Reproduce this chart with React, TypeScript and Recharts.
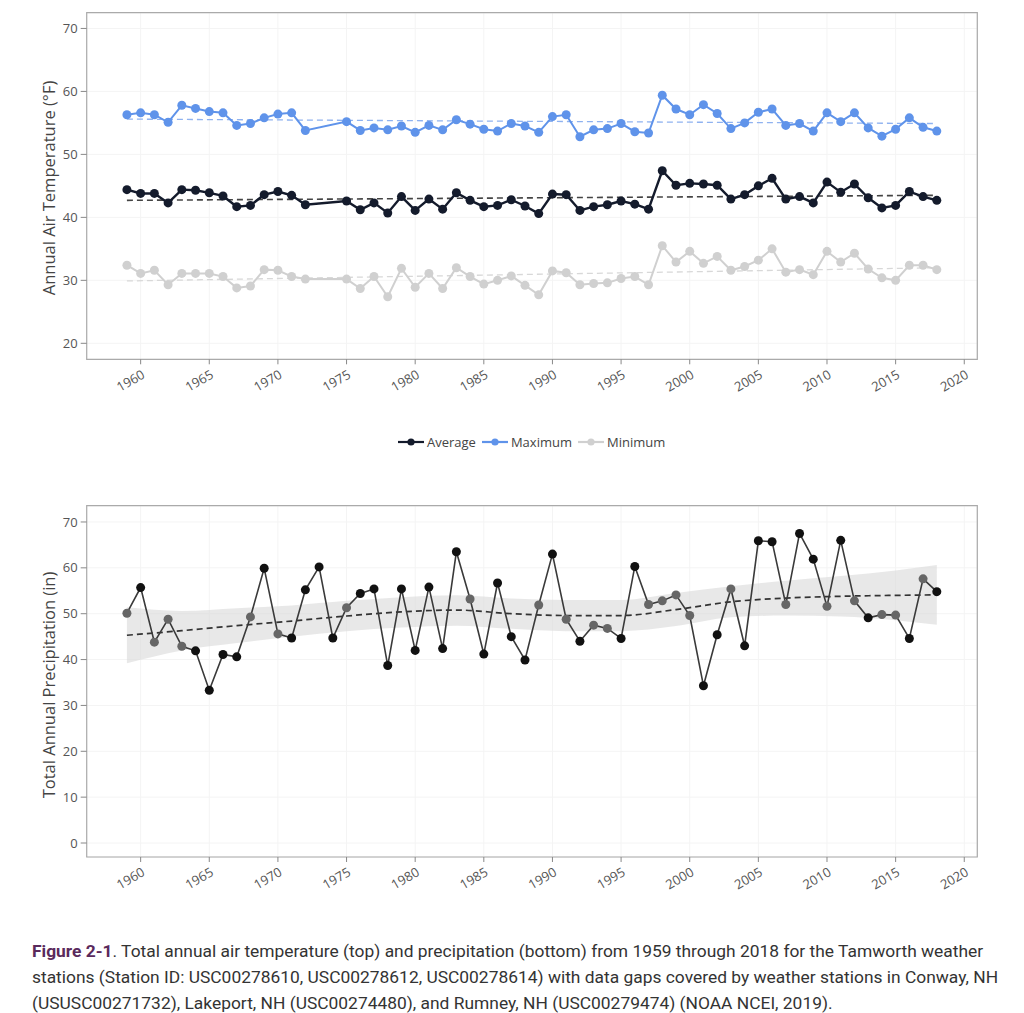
import React from 'react'
import { Area, CartesianGrid, ComposedChart, Line, LineChart, ReferenceArea, XAxis, YAxis } from 'recharts'

// top panel: annual air temperature (°F); 1973-1974 missing
const tempYears = [
  1959, 1960, 1961, 1962, 1963, 1964, 1965, 1966, 1967, 1968, 1969, 1970, 1971, 1972,
  1975, 1976, 1977, 1978, 1979, 1980, 1981, 1982, 1983, 1984,
  1985, 1986, 1987, 1988, 1989, 1990, 1991, 1992, 1993, 1994,
  1995, 1996, 1997, 1998, 1999, 2000, 2001, 2002, 2003, 2004,
  2005, 2006, 2007, 2008, 2009, 2010, 2011, 2012, 2013, 2014,
  2015, 2016, 2017, 2018,
]
const avgTemp = [
  44.4, 43.8, 43.8, 42.3, 44.4, 44.3, 43.9, 43.4, 41.7, 41.9, 43.6, 44.1, 43.5, 42.0,
  42.6, 41.2, 42.3, 40.7, 43.3, 41.1, 42.9, 41.3, 43.9, 42.7,
  41.7, 41.9, 42.8, 41.8, 40.6, 43.7, 43.6, 41.1, 41.7, 42.0,
  42.6, 42.1, 41.3, 47.4, 45.1, 45.4, 45.3, 45.1, 42.9, 43.6,
  45.0, 46.2, 42.9, 43.3, 42.3, 45.6, 44.0, 45.3, 43.1, 41.5,
  41.9, 44.1, 43.3, 42.7,
]
const maxTemp = [
  56.3, 56.6, 56.3, 55.1, 57.8, 57.3, 56.8, 56.6, 54.6, 54.9, 55.8, 56.4, 56.6, 53.8,
  55.2, 53.8, 54.2, 53.9, 54.5, 53.5, 54.6, 53.9, 55.5, 54.8,
  54.0, 53.7, 54.9, 54.5, 53.5, 56.0, 56.3, 52.8, 53.9, 54.1,
  54.9, 53.6, 53.4, 59.4, 57.2, 56.3, 57.9, 56.5, 54.1, 55.0,
  56.7, 57.2, 54.6, 54.9, 53.7, 56.6, 55.2, 56.6, 54.2, 52.9,
  54.0, 55.8, 54.3, 53.7,
]
const minTemp = [
  32.4, 31.1, 31.6, 29.3, 31.1, 31.1, 31.1, 30.6, 28.8, 29.1, 31.7, 31.6, 30.6, 30.2,
  30.2, 28.7, 30.6, 27.4, 31.9, 28.9, 31.1, 28.7, 32.0, 30.6,
  29.4, 30.0, 30.7, 29.2, 27.7, 31.5, 31.2, 29.3, 29.5, 29.6,
  30.3, 30.6, 29.3, 35.5, 32.9, 34.6, 32.7, 33.8, 31.6, 32.2,
  33.2, 35.0, 31.3, 31.7, 30.9, 34.6, 32.9, 34.3, 31.8, 30.4,
  30.0, 32.4, 32.4, 31.7,
]

// linear trend end points
const trendYears = [1959, 2018]
const avgTrend = [42.7, 43.5]
const maxTrend = [55.6, 54.9]
const minTrend = [29.9, 32.0]

// bottom panel: total annual precipitation (in)
const precipYears = [
  1959, 1960, 1961, 1962, 1963, 1964, 1965, 1966, 1967, 1968,
  1969, 1970, 1971, 1972, 1973, 1974, 1975, 1976, 1977, 1978,
  1979, 1980, 1981, 1982, 1983, 1984, 1985, 1986, 1987, 1988,
  1989, 1990, 1991, 1992, 1993, 1994, 1995, 1996, 1997, 1998,
  1999, 2000, 2001, 2002, 2003, 2004, 2005, 2006, 2007, 2008,
  2009, 2010, 2011, 2012, 2013, 2014, 2015, 2016, 2017, 2018,
]
const precip = [
  50.1, 55.7, 43.8, 48.8, 42.9, 41.9, 33.3, 41.1, 40.6, 49.3,
  59.9, 45.6, 44.7, 55.2, 60.2, 44.7, 51.3, 54.4, 55.4, 38.7,
  55.4, 42.0, 55.8, 42.4, 63.5, 53.2, 41.2, 56.7, 45.0, 39.9,
  51.9, 63.0, 48.8, 44.0, 47.5, 46.8, 44.6, 60.3, 52.0, 52.8,
  54.1, 49.6, 34.3, 45.4, 55.4, 43.0, 65.9, 65.7, 52.0, 67.5,
  61.9, 51.6, 66.0, 52.8, 49.1, 49.8, 49.7, 44.6, 57.6, 54.8,
]
// years filled from nearby stations (grey points)
const gapYears = [
  1959, 1961, 1962, 1963, 1968, 1970, 1975, 1984, 1989, 1991, 1993, 1994,
  1997, 1998, 1999, 2000, 2003, 2007, 2010, 2012, 2014, 2015, 2017,
]

// smoothed trend with confidence band
const smoothYears = [1959, 1963, 1967, 1971, 1975, 1979, 1983, 1987, 1991, 1995, 1999, 2003, 2007, 2011, 2015, 2018]
const smoothMid = [45.3, 46.3, 47.4, 48.4, 49.5, 50.4, 50.8, 50.0, 49.6, 49.6, 50.9, 52.6, 53.4, 53.8, 54.0, 54.1]
const smoothLow = [39.2, 42.0, 43.6, 45.0, 46.2, 47.0, 47.4, 46.7, 46.2, 46.2, 47.3, 49.2, 49.6, 49.4, 48.6, 47.6]
const smoothHigh = [51.4, 50.6, 51.2, 51.8, 52.8, 53.6, 54.0, 53.3, 53.0, 53.0, 54.5, 56.0, 57.2, 58.2, 59.4, 60.6]

const yearTicks = [1960, 1965, 1970, 1975, 1980, 1985, 1990, 1995, 2000, 2005, 2010, 2015, 2020]
const tempTicks = [20, 30, 40, 50, 60, 70]
const precipTicks = [0, 10, 20, 30, 40, 50, 60, 70]

const captionLines = [
  '. Total annual air temperature (top) and precipitation (bottom) from 1959 through 2018 for the Tamworth weather',
  'stations (Station ID: USC00278610, USC00278612, USC00278614) with data gaps covered by weather stations in Conway, NH',
  '(USUSC00271732), Lakeport, NH (USC00274480), and Rumney, NH (USC00279474) (NOAA NCEI, 2019).',
]

const X_DOMAIN: [number, number] = [1956.07, 2020.95]
const TEMP_DOMAIN: [number, number] = [17.46, 72.5]
const PRECIP_DOMAIN: [number, number] = [-3.05, 73.55]

const FONT = '"Open Sans", "Noto Sans", sans-serif'
const AVG = '#141b2c'
const MAX = '#5f93ea'
const MIN = '#d0d0d0'

const tempRows = tempYears.map((year, i) => ({ year, avg: avgTemp[i], max: maxTemp[i], min: minTemp[i] }))
const avgTrendRows = trendYears.map((year, i) => ({ year, v: avgTrend[i] }))
const maxTrendRows = trendYears.map((year, i) => ({ year, v: maxTrend[i] }))
const minTrendRows = trendYears.map((year, i) => ({ year, v: minTrend[i] }))
const precipRows = precipYears.map((year, i) => ({ year, p: precip[i], gap: gapYears.includes(year) }))
const smoothRows = smoothYears.map((year, i) => ({ year, mid: smoothMid[i], band: [smoothLow[i], smoothHigh[i]] }))

function YearTick({ x, y, payload }: any) {
  return (
    <g transform={`translate(${x},${y})`}>
      <text x={-1} y={12} transform="rotate(-30)" textAnchor="end" fill="#555" fontSize={13} fontFamily={FONT}>
        {payload.value}
      </text>
    </g>
  )
}

function PrecipDot(props: any) {
  const { cx, cy, payload, index } = props
  if (cx == null || cy == null) return <g key={`pd-${index}`} />
  return <circle key={`pd-${index}`} cx={cx} cy={cy} r={4.5} fill={payload.gap ? '#666666' : '#111111'} stroke="none" />
}

const yTick = { fill: '#555', fontSize: 13, fontFamily: FONT }

function LegendItem({ color, label }: { color: string; label: string }) {
  return (
    <span style={{ display: 'inline-flex', alignItems: 'center', marginRight: 6 }}>
      <svg width={26} height={10}>
        <line x1={0} y1={5} x2={26} y2={5} stroke={color} strokeWidth={2.2} />
        <circle cx={13} cy={5} r={3.6} fill={color} />
      </svg>
      <span style={{ marginLeft: 3 }}>{label}</span>
    </span>
  )
}

export default function App() {
  return (
    <div style={{ position: 'absolute', left: 0, top: 0, width: 1024, height: 1013, background: '#fff', fontFamily: FONT }}>
      {/* top chart */}
      <div style={{ position: 'absolute', left: 0, top: 0 }}>
        <LineChart width={1024} height={420} data={tempRows} margin={{ top: 12.7, right: 46.7, bottom: 0.7, left: 36.7 }}>
          <CartesianGrid stroke="#f4f4f4" />
          <XAxis
            dataKey="year"
            type="number"
            domain={X_DOMAIN}
            allowDataOverflow
            ticks={yearTicks}
            height={60}
            axisLine={false}
            tickLine={{ stroke: '#888' }}
            tickSize={5}
            tick={<YearTick />}
          />
          <YAxis
            type="number"
            domain={TEMP_DOMAIN}
            allowDataOverflow
            ticks={tempTicks}
            width={50}
            axisLine={false}
            tickLine={{ stroke: '#888' }}
            tickSize={6}
            tickMargin={3}
            tick={yTick}
          />
          <ReferenceArea x1={X_DOMAIN[0]} x2={X_DOMAIN[1]} y1={TEMP_DOMAIN[0]} y2={TEMP_DOMAIN[1]} fill="none" stroke="#aaa" strokeWidth={1.2} />
          <Line data={maxTrendRows} dataKey="v" stroke="#8fb2f0" strokeWidth={1.3} strokeDasharray="6 4" dot={false} activeDot={false} isAnimationActive={false} />
          <Line data={avgTrendRows} dataKey="v" stroke="#444" strokeWidth={1.6} strokeDasharray="6 4" dot={false} activeDot={false} isAnimationActive={false} />
          <Line data={minTrendRows} dataKey="v" stroke="#d8d8d8" strokeWidth={1.3} strokeDasharray="6 4" dot={false} activeDot={false} isAnimationActive={false} />
          <Line dataKey="min" stroke={MIN} strokeWidth={2} dot={{ r: 4.5, fill: MIN, stroke: 'none' }} activeDot={false} isAnimationActive={false} />
          <Line dataKey="max" stroke={MAX} strokeWidth={2} dot={{ r: 4.5, fill: MAX, stroke: 'none' }} activeDot={false} isAnimationActive={false} />
          <Line dataKey="avg" stroke={AVG} strokeWidth={2.4} dot={{ r: 4.5, fill: AVG, stroke: 'none' }} activeDot={false} isAnimationActive={false} />
        </LineChart>
      </div>
      <div
        style={{
          position: 'absolute', left: 48, top: 188, transform: 'translate(-50%, -50%) rotate(-90deg)',
          whiteSpace: 'nowrap', fontSize: 16.5, color: '#444',
        }}
      >
        Annual Air Temperature (°F)
      </div>

      {/* legend */}
      <div style={{ position: 'absolute', left: 398, top: 433, fontSize: 13, color: '#444', display: 'flex', alignItems: 'center', whiteSpace: 'nowrap' }}>
        <LegendItem color={AVG} label="Average" />
        <LegendItem color={MAX} label="Maximum" />
        <LegendItem color={MIN} label="Minimum" />
      </div>

      {/* bottom chart */}
      <div style={{ position: 'absolute', left: 0, top: 480 }}>
        <ComposedChart width={1024} height={440} data={precipRows} margin={{ top: 25.7, right: 46.7, bottom: 3, left: 36.7 }}>
          <CartesianGrid stroke="#f4f4f4" />
          <XAxis
            dataKey="year"
            type="number"
            domain={X_DOMAIN}
            allowDataOverflow
            ticks={yearTicks}
            height={60}
            axisLine={false}
            tickLine={{ stroke: '#888' }}
            tickSize={5}
            tick={<YearTick />}
          />
          <YAxis
            type="number"
            domain={PRECIP_DOMAIN}
            allowDataOverflow
            ticks={precipTicks}
            width={50}
            axisLine={false}
            tickLine={{ stroke: '#888' }}
            tickSize={6}
            tickMargin={3}
            tick={yTick}
          />
          <ReferenceArea x1={X_DOMAIN[0]} x2={X_DOMAIN[1]} y1={PRECIP_DOMAIN[0]} y2={PRECIP_DOMAIN[1]} fill="none" stroke="#aaa" strokeWidth={1.2} />
          <Area data={smoothRows} dataKey="band" type="monotone" fill="#d9d9d9" fillOpacity={0.6} stroke="none" activeDot={false} isAnimationActive={false} />
          <Line data={smoothRows} dataKey="mid" type="monotone" stroke="#333" strokeWidth={1.7} strokeDasharray="6 4" dot={false} activeDot={false} isAnimationActive={false} />
          <Line dataKey="p" stroke="#3a3a3a" strokeWidth={1.6} dot={<PrecipDot />} activeDot={false} isAnimationActive={false} />
        </ComposedChart>
      </div>
      <div
        style={{
          position: 'absolute', left: 48, top: 685, transform: 'translate(-50%, -50%) rotate(-90deg)',
          whiteSpace: 'nowrap', fontSize: 16.5, color: '#444',
        }}
      >
        Total Annual Precipitation (in)
      </div>

      {/* caption */}
      <div
        style={{
          position: 'absolute', left: 32, top: 938, width: 985, fontFamily: 'Roboto, "Noto Sans", sans-serif',
          fontSize: 17.4, lineHeight: '26px', color: '#333', whiteSpace: 'nowrap', letterSpacing: 0,
        }}
      >
        <div>
          <span style={{ color: '#5a2a5c', fontWeight: 'bold' }}>Figure 2-1</span>
          {captionLines[0]}
        </div>
        <div>{captionLines[1]}</div>
        <div>{captionLines[2]}</div>
      </div>
    </div>
  )
}
